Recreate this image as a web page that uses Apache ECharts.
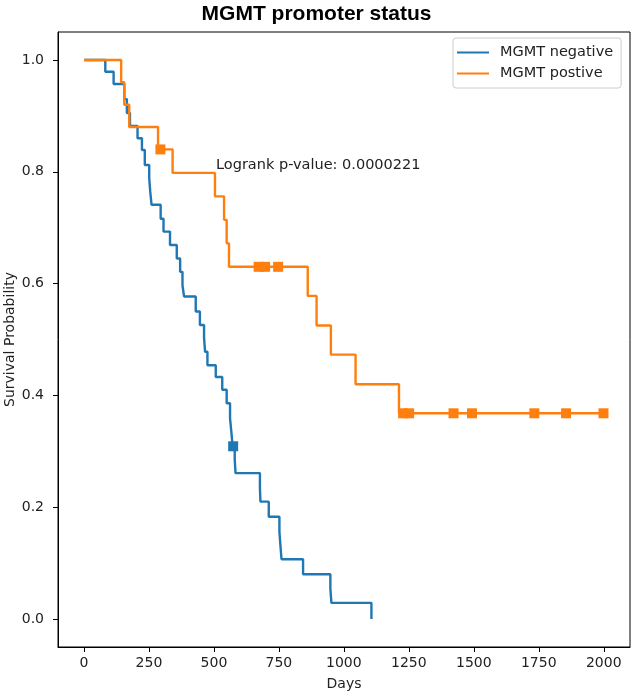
<!DOCTYPE html>
<html>
<head>
<meta charset="utf-8">
<script src="https://cdn.jsdelivr.net/npm/echarts@6/dist/echarts.min.js"></script>
<style>
  html, body { margin: 0; padding: 0; background: #fff; }
  #chart { width: 633px; height: 693px; }
</style>
</head>
<body>
<div id="chart"></div>
<script>
// Kaplan-Meier steps (day of event, survival after it)
const negDays = [0, 82, 114, 155, 165, 177, 206, 223, 234, 251, 255, 260, 295, 306, 331, 357, 370, 379, 385, 430,
                 446, 462, 466, 475, 507, 532, 549, 562, 567, 572, 580, 583, 677, 679, 711, 752, 756, 760, 843, 948, 952, 1106];
const negSurv = [1.0, 0.979, 0.957, 0.930, 0.905, 0.882, 0.860, 0.839, 0.812, 0.789, 0.764, 0.741, 0.716, 0.693, 0.669, 0.645, 0.621, 0.597, 0.577, 0.550,
                 0.526, 0.503, 0.478, 0.454, 0.433, 0.410, 0.386, 0.359, 0.335, 0.309, 0.286, 0.261, 0.234, 0.210, 0.183, 0.156, 0.131, 0.107, 0.080, 0.055, 0.029, 0.0];
const negCensDays = [574];
const negCensSurv = [0.309];

const posDays = [0, 143, 155, 174, 285, 341, 504, 539, 549, 558, 861, 895, 950, 1045, 1212, 1999];
const posSurv = [1.0, 0.96, 0.92, 0.88, 0.84, 0.798, 0.756, 0.714, 0.672, 0.630, 0.578, 0.525, 0.473, 0.420, 0.368, 0.368];
const posCensDays = [294, 672, 697, 747, 1228, 1251, 1422, 1493, 1733, 1855, 1999];
const posCensSurv = [0.84, 0.63, 0.63, 0.63, 0.368, 0.368, 0.368, 0.368, 0.368, 0.368, 0.368];

const xTicks = [0, 250, 500, 750, 1000, 1250, 1500, 1750, 2000];
const yTicks = [0, 0.2, 0.4, 0.6, 0.8, 1.0];

const pValueText = 'Logrank p-value: 0.0000221';

function pairs(xs, ys) {
    return xs.map(function (x, i) { return [x, ys[i]]; });
}

const BLUE = '#1f77b4';
const ORANGE = '#ff7f0e';
const FONT = 'DejaVu Sans';

let chart = echarts.init(document.getElementById('chart'));
let option = {
    animation: false,
    textStyle: { fontFamily: FONT },
    title: {
        text: 'MGMT promoter status',
        left: 'center',
        top: -1,
        textStyle: { fontFamily: 'Liberation Sans', fontWeight: 'bold', fontSize: 21, color: '#000' }
    },
    legend: {
        orient: 'vertical',
        left: 453,
        top: 38,
        padding: [6, 8, 6, 4],
        itemWidth: 32,
        itemHeight: 2,
        itemGap: 4,
        borderColor: '#ccc',
        borderWidth: 1,
        borderRadius: 3,
        backgroundColor: 'rgba(255,255,255,0.8)',
        data: [
            { name: 'MGMT negative', icon: 'rect' },
            { name: 'MGMT postive', icon: 'rect' }
        ],
        textStyle: { fontFamily: FONT, fontSize: 14.5, color: '#222', lineHeight: 17, padding: [0, 0, 0, 6] }
    },
    grid: {
        left: 58, right: 3, top: 32, bottom: 46,
        containLabel: false,
        outerBoundsMode: 'none',
        show: true, borderColor: '#000', borderWidth: 1
    },
    xAxis: {
        type: 'value',
        min: -100,
        max: 2101,
        name: 'Days',
        nameLocation: 'middle',
        nameGap: 30,
        nameMoveOverlap: false,
        nameTextStyle: { fontFamily: FONT, fontSize: 14, color: '#222' },
        axisLine: { show: true, onZero: false, lineStyle: { color: '#000' } },
        axisTick: { show: true, length: 5, customValues: xTicks, lineStyle: { color: '#000' } },
        axisLabel: {
            customValues: xTicks, margin: 9, fontSize: 14, color: '#222', fontFamily: FONT,
            formatter: function (v) { return String(v); }
        },
        splitLine: { show: false }
    },
    yAxis: {
        type: 'value',
        min: -0.05,
        max: 1.05,
        name: 'Survival Probability',
        nameLocation: 'middle',
        nameGap: 41,
        nameMoveOverlap: false,
        nameTextStyle: { fontFamily: FONT, fontSize: 14, color: '#222' },
        axisLine: { show: true, onZero: false, lineStyle: { color: '#000' } },
        axisTick: { show: true, length: 5, customValues: yTicks, lineStyle: { color: '#000' } },
        axisLabel: {
            customValues: yTicks, margin: 14, fontSize: 14, color: '#222', fontFamily: FONT,
            formatter: function (v) { return v.toFixed(1); }
        },
        splitLine: { show: false }
    },
    graphic: [{
        type: 'text',
        left: 216,
        top: 158,
        style: { text: pValueText, fontFamily: FONT, fontSize: 14.5, fill: '#222' }
    }],
    series: [{
        name: 'MGMT negative',
        type: 'line',
        step: 'end',
        showSymbol: false,
        data: pairs(negDays, negSurv),
        itemStyle: { color: BLUE },
        lineStyle: { color: BLUE, width: 2.4 }
    }, {
        name: 'negative censored',
        type: 'scatter',
        symbol: 'rect',
        symbolSize: 10,
        data: pairs(negCensDays, negCensSurv),
        itemStyle: { color: BLUE, opacity: 1 }
    }, {
        name: 'MGMT postive',
        type: 'line',
        step: 'end',
        showSymbol: false,
        data: pairs(posDays, posSurv),
        itemStyle: { color: ORANGE },
        lineStyle: { color: ORANGE, width: 2.4 }
    }, {
        name: 'positive censored',
        type: 'scatter',
        symbol: 'rect',
        symbolSize: 10,
        data: pairs(posCensDays, posCensSurv),
        itemStyle: { color: ORANGE, opacity: 1 }
    }]
};
chart.setOption(option);
window.addEventListener('resize', function () {
    chart.resize();
});
</script>
</body>
</html>
